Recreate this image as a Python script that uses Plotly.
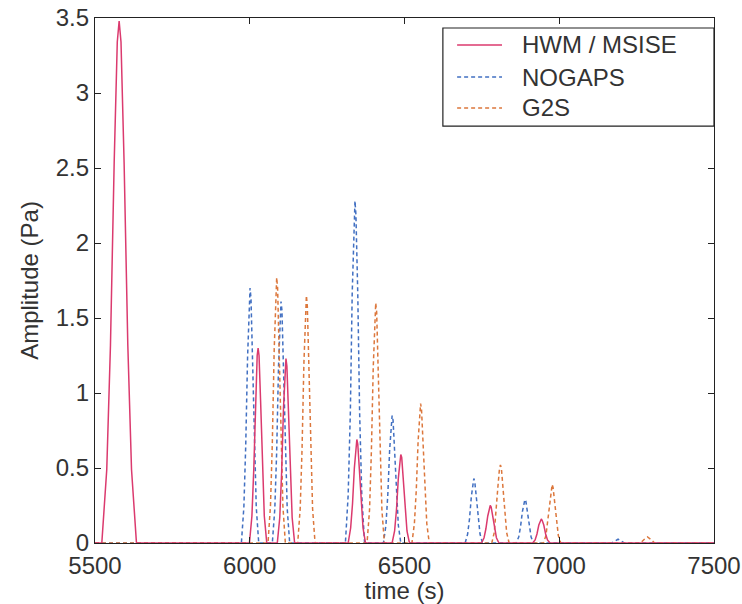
import plotly.graph_objects as go

# ---- data ----
hwm_t = [5500, 5522, 5538, 5550, 5562, 5572, 5578, 5584, 5594, 5606, 5618, 5634,
         5999, 6007, 6013, 6019, 6024, 6027, 6030, 6035, 6041, 6047, 6055,
         6089, 6097, 6103, 6109, 6114, 6117, 6120, 6125, 6131, 6137, 6145,
         6318, 6326, 6332, 6338, 6343, 6346, 6349, 6354, 6360, 6366, 6374,
         6460, 6468, 6474, 6480, 6485, 6488, 6491, 6496, 6502, 6508, 6516,
         6749, 6757, 6763, 6769, 6774, 6777, 6780, 6785, 6791, 6797, 6805,
         6914, 6922, 6928, 6934, 6939, 6942, 6945, 6950, 6956, 6962, 6970,
         7500]
hwm_a = [0, 0, 0.49, 1.32, 2.54, 3.34, 3.48, 3.34, 2.54, 1.32, 0.49, 0,
         0, 0.18, 0.49, 0.95, 1.25, 1.30, 1.25, 0.95, 0.49, 0.18, 0,
         0, 0.17, 0.47, 0.90, 1.18, 1.23, 1.18, 0.90, 0.47, 0.17, 0,
         0, 0.10, 0.26, 0.50, 0.66, 0.69, 0.66, 0.50, 0.26, 0.10, 0,
         0, 0.08, 0.22, 0.43, 0.57, 0.59, 0.57, 0.43, 0.22, 0.08, 0,
         0, 0.035, 0.095, 0.18, 0.24, 0.25, 0.24, 0.18, 0.095, 0.035, 0,
         0, 0.02, 0.06, 0.12, 0.15, 0.16, 0.15, 0.12, 0.06, 0.02, 0,
         0]

nog_t = [5500,
         5973, 5981, 5987, 5993, 5998, 6001, 6004, 6009, 6015, 6021, 6029,
         6073, 6081, 6087, 6093, 6098, 6101, 6104, 6109, 6115, 6121, 6129,
         6309, 6318, 6325, 6331, 6337, 6340, 6343, 6349, 6355, 6362, 6371,
         6432, 6440, 6446, 6452, 6457, 6460, 6463, 6468, 6474, 6480, 6488,
         6696, 6704, 6710, 6716, 6721, 6724, 6727, 6732, 6738, 6744, 6752,
         6861, 6869, 6875, 6881, 6886, 6889, 6892, 6897, 6903, 6909, 6917,
         7170, 7182, 7190, 7198, 7210,
         7500]
nog_a = [0,
         0, 0.24, 0.65, 1.24, 1.63, 1.70, 1.63, 1.24, 0.65, 0.24, 0,
         0, 0.23, 0.61, 1.18, 1.55, 1.61, 1.55, 1.18, 0.61, 0.23, 0,
         0, 0.32, 0.87, 1.66, 2.19, 2.28, 2.19, 1.66, 0.87, 0.32, 0,
         0, 0.12, 0.32, 0.62, 0.82, 0.85, 0.82, 0.62, 0.32, 0.12, 0,
         0, 0.06, 0.16, 0.31, 0.41, 0.43, 0.41, 0.31, 0.16, 0.06, 0,
         0, 0.04, 0.11, 0.21, 0.28, 0.29, 0.28, 0.21, 0.11, 0.04, 0,
         0, 0.015, 0.025, 0.015, 0,
         0]

g2s_t = [5500,
         6059, 6067, 6073, 6079, 6084, 6087, 6090, 6095, 6101, 6107, 6115,
         6155, 6163, 6169, 6175, 6180, 6183, 6186, 6191, 6197, 6203, 6211,
         6379, 6387, 6393, 6399, 6404, 6407, 6410, 6415, 6421, 6427, 6435,
         6524, 6532, 6538, 6544, 6549, 6552, 6555, 6560, 6566, 6572, 6580,
         6782, 6790, 6796, 6802, 6807, 6810, 6813, 6818, 6824, 6830, 6838,
         6949, 6957, 6963, 6969, 6974, 6977, 6980, 6985, 6991, 6997, 7005,
         7262, 7275, 7285, 7295, 7308,
         7500]
g2s_a = [0,
         0, 0.25, 0.67, 1.29, 1.70, 1.77, 1.70, 1.29, 0.67, 0.25, 0,
         0, 0.23, 0.63, 1.20, 1.58, 1.65, 1.58, 1.20, 0.63, 0.23, 0,
         0, 0.22, 0.61, 1.17, 1.54, 1.60, 1.54, 1.17, 0.61, 0.22, 0,
         0, 0.13, 0.35, 0.68, 0.89, 0.93, 0.89, 0.68, 0.35, 0.13, 0,
         0, 0.07, 0.20, 0.38, 0.50, 0.52, 0.50, 0.38, 0.20, 0.07, 0,
         0, 0.05, 0.15, 0.28, 0.37, 0.39, 0.37, 0.28, 0.15, 0.05, 0,
         0, 0.025, 0.04, 0.025, 0,
         0]

series_names = ["HWM / MSISE", "NOGAPS", "G2S"]
x_ticks = [5500, 6000, 6500, 7000, 7500]
y_ticks = [0, 0.5, 1, 1.5, 2, 2.5, 3, 3.5]
y_tick_text = ["0", "0.5", "1", "1.5", "2", "2.5", "3", "3.5"]

FONT = "Liberation Sans, Arial, sans-serif"
COLORS = ["#db3a6e", "#4270c2", "#dc773c"]
DASHES = ["solid", "4px,3px", "4px,3px"]

fig = go.Figure()
fig.add_trace(go.Scatter(x=nog_t, y=nog_a, mode="lines", name=series_names[1],
                         line=dict(color=COLORS[1], width=1.5, dash=DASHES[1])))
fig.add_trace(go.Scatter(x=g2s_t, y=g2s_a, mode="lines", name=series_names[2],
                         line=dict(color=COLORS[2], width=1.5, dash=DASHES[2])))
fig.add_trace(go.Scatter(x=hwm_t, y=hwm_a, mode="lines", name=series_names[0],
                         line=dict(color=COLORS[0], width=1.5, dash=DASHES[0])))

axis_common = dict(showline=True, linecolor="#222", linewidth=1.2, mirror="ticks",
                   ticks="inside", ticklen=6, tickcolor="#222", showgrid=False,
                   zeroline=False, automargin=False,
                   tickfont=dict(family=FONT, size=24, color="#333"))

# legend box drawn in paper coordinates (top-right, inside the axes)
shapes = [dict(type="rect", xref="paper", yref="paper", x0=0.562, x1=1.0,
               y0=0.794, y1=0.981, line=dict(color="#222", width=1.2),
               fillcolor="white", layer="above")]
annotations = []
leg_y = [0.9486, 0.8876, 0.8286]
for name, col, dash, yy in zip(series_names, COLORS, DASHES, leg_y):
    shapes.append(dict(type="line", xref="paper", yref="paper", x0=0.585, x1=0.6575,
                       y0=yy, y1=yy, line=dict(color=col, width=1.5, dash=dash),
                       layer="above"))
    annotations.append(dict(xref="paper", yref="paper", x=0.6866, y=yy,
                            xanchor="left", yanchor="middle", text=name,
                            showarrow=False,
                            font=dict(family=FONT, size=24, color="#333")))

fig.update_layout(
    width=742, height=604,
    margin=dict(l=95, r=28, t=18, b=61),
    paper_bgcolor="white", plot_bgcolor="white",
    font=dict(family=FONT, size=24, color="#333"),
    xaxis=dict(range=[5500, 7500], tickvals=x_ticks, ticklabelstandoff=1,
               title=dict(text="time (s)", standoff=0, font=dict(size=24)),
               **axis_common),
    yaxis=dict(range=[0, 3.5], tickvals=y_ticks, ticktext=y_tick_text,
               title=dict(text="Amplitude (Pa)", standoff=10, font=dict(size=24)),
               **axis_common),
    shapes=shapes,
    annotations=annotations,
    showlegend=False,
)

fig.write_html("out.html")
